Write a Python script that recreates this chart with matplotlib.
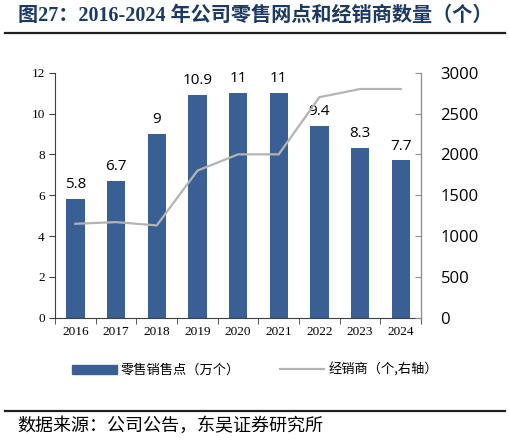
import numpy as np
import matplotlib
matplotlib.use('Agg')
from matplotlib import pyplot as plt
from matplotlib.lines import Line2D

years = ['2016', '2017', '2018', '2019', '2020', '2021', '2022', '2023', '2024']
retail_points = [5.8, 6.7, 9, 10.9, 11, 11, 9.4, 8.3, 7.7]   # 万个
dealers = [1150, 1170, 1130, 1800, 2000, 2000, 2700, 2800, 2800]  # 个
left_ticks = [0, 2, 4, 6, 8, 10, 12]
right_ticks = [0, 500, 1000, 1500, 2000, 2500, 3000]

title = '图27：2016-2024 年公司零售网点和经销商数量（个）'
source = '数据来源：公司公告，东吴证券研究所'
bar_name = '零售销售点（万个）'
line_name = '经销商（个,右轴）'

bar_color = '#3A5F94'
line_color = '#B4B4B4'
cjk = ['Noto Sans CJK SC', 'DejaVu Sans']
serif = ['Liberation Serif', 'Noto Sans CJK SC']

fig = plt.figure(figsize=(5.1, 4.44), dpi=100)
ax = fig.add_axes([0.108, 0.2845, 0.7176, 0.5518])
ax2 = ax.twinx()

x = np.arange(len(years))
ax.bar(x, retail_points, width=0.45, color=bar_color, zorder=2)
for xi, v in zip(x, retail_points):
    ax.annotate('%g' % v, (xi, v), xytext=(0, 5), textcoords='offset points',
                ha='center', va='bottom', fontsize=11, family='Open Sans')
ax2.plot(x, dealers, color=line_color, lw=1.6, zorder=3)

ax.set_xlim(-0.5, len(years) - 0.5)
ax.set_ylim(0, 12)
ax.set_yticks(left_ticks)
ax2.set_ylim(0, 3000)
ax2.set_yticks(right_ticks)

ax.set_xticks(x)
ax.set_xticklabels(years, family='Liberation Serif', fontsize=9.5)
ax.set_xticks(np.arange(len(years) + 1) - 0.5, minor=True)
ax.tick_params(axis='x', which='major', length=0, pad=6)
ax.tick_params(axis='x', which='minor', length=4, color='#404040')
ax.tick_params(axis='y', length=4, color='#404040', labelsize=9.5)
for t in ax.get_yticklabels():
    t.set_family('Liberation Serif')
ax2.tick_params(axis='y', direction='in', length=4, color='#909090', labelsize=12, pad=14)
for t in ax2.get_yticklabels():
    t.set_family('Open Sans')

for a in (ax, ax2):
    a.spines['top'].set_visible(False)
ax.spines['left'].set_color('#404040')
ax.spines['bottom'].set_color('#404040')
ax2.spines['left'].set_visible(False)
ax2.spines['bottom'].set_visible(False)
ax2.spines['right'].set_color('#909090')
ax.set_zorder(ax2.get_zorder() - 1)
ax.patch.set_visible(False)

handles = [plt.Rectangle((0, 0), 1, 1, color=bar_color),
           Line2D([0], [0], color=line_color, lw=1.6)]
fig.legend(handles, [bar_name, line_name], loc='center', bbox_to_anchor=(0.5, 0.167),
           ncol=2, frameon=False, prop={'family': cjk, 'size': 9.5},
           handlelength=3.4, columnspacing=3, handletextpad=0.3)

fig.text(0.035, 0.963, title, family=serif, fontsize=14.5, fontweight='bold',
         color='#1F3A60', va='center')
fig.add_artist(Line2D([0.01, 0.99], [0.925, 0.925], color='#202020', lw=1.6))
fig.add_artist(Line2D([0.01, 0.99], [0.074, 0.074], color='#202020', lw=1.6))
fig.text(0.033, 0.042, source, family=cjk, fontsize=13, va='center')

fig.savefig('out.png', dpi=100)
